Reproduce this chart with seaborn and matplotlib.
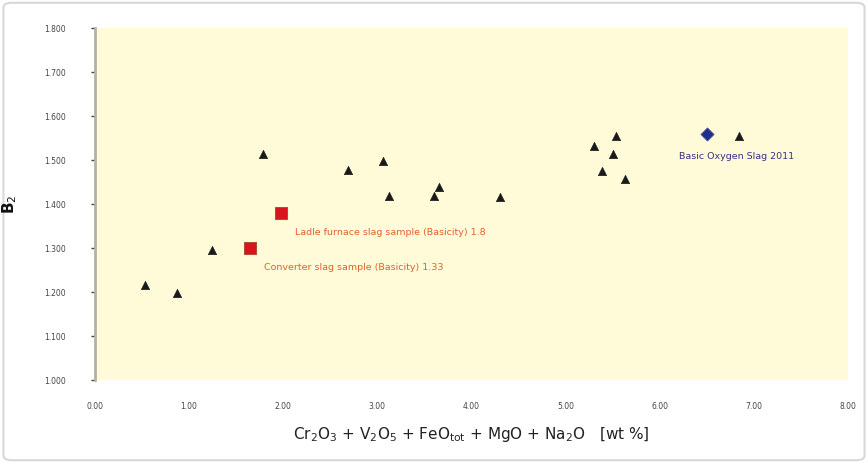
import matplotlib
matplotlib.use("Agg")
import matplotlib.pyplot as plt
import seaborn as sns
import pandas as pd
from matplotlib.patches import FancyBboxPatch

# data
tri_x = [0.53, 0.87, 1.24, 1.79, 2.69, 3.06, 3.12, 3.60, 3.65, 4.30, 5.30, 5.54, 5.50, 5.39, 5.63, 6.84]
tri_y = [1.216, 1.198, 1.295, 1.514, 1.477, 1.498, 1.418, 1.418, 1.439, 1.416, 1.532, 1.555, 1.514, 1.475, 1.457, 1.555]
red_x = [1.98, 1.65]
red_y = [1.380, 1.300]
red_labels = ["Ladle furnace slag sample (Basicity) 1.8", "Converter slag sample (Basicity) 1.33"]
blue_x = [6.50]
blue_y = [1.559]
blue_labels = ["Basic Oxygen Slag 2011"]
x_ticks = [0, 1, 2, 3, 4, 5, 6, 7, 8]
y_ticks = [1.0, 1.1, 1.2, 1.3, 1.4, 1.5, 1.6, 1.7, 1.8]

sns.set_theme(style="white")
plt.rcParams['font.family'] = ['DejaVu Sans']

fig = plt.figure(figsize=(8.68, 4.63), dpi=100)
fig.patch.set_facecolor("white")
border = FancyBboxPatch((0.004, 0.006), 0.992, 0.988, boxstyle="round,pad=0,rounding_size=0.01",
                        transform=fig.transFigure, facecolor="none", edgecolor="#d8d8d8", lw=1.5, zorder=-10)
fig.patches.append(border)

ax = fig.add_axes([0.1094, 0.179, 0.8676, 0.7605])
ax.set_zorder(5)
ax.set_facecolor("#fffbd8")

df_t = pd.DataFrame({"x": tri_x, "y": tri_y})
df_r = pd.DataFrame({"x": red_x, "y": red_y})
df_b = pd.DataFrame({"x": blue_x, "y": blue_y})

sns.scatterplot(data=df_t, x="x", y="y", marker="^", s=36, color="#1a1a1a", edgecolor="#1a1a1a", ax=ax)
sns.scatterplot(data=df_r, x="x", y="y", marker="s", s=85, color="#d8141c", edgecolor="#b05030", ax=ax)
sns.scatterplot(data=df_b, x="x", y="y", marker="D", s=45, color="#1d2f8c", edgecolor="#5050a0", ax=ax)

for x, y, t in zip(red_x, red_y, red_labels):
    ax.annotate(t, (x, y), xytext=(10, -16), textcoords="offset points", fontsize=6.8, color="#e06030")
for x, y, t in zip(blue_x, blue_y, blue_labels):
    ax.annotate(t, (x, y), xytext=(-20, -18), textcoords="offset points", fontsize=6.8, color="#3a2f8a")

ax.set_xlim(0, 8)
ax.set_ylim(1.0, 1.8)
ax.set_xticks(x_ticks)
ax.set_xticklabels([f"{v:.2f}" for v in x_ticks])
ax.set_yticks(y_ticks)
ax.set_yticklabels([f"{v:.3f}" for v in y_ticks])
ax.tick_params(axis="x", labelsize=5.5, colors="#444444", length=0, pad=16)
ax.tick_params(axis="y", labelsize=5.5, colors="#444444", length=3, width=1, direction="out", left=True, pad=18)

for s in ["top", "right", "bottom"]:
    ax.spines[s].set_visible(False)
ax.spines["left"].set_color("#b8b0a8")
ax.spines["left"].set_linewidth(2)

ax.set_xlabel("Cr$_2$O$_3$ + V$_2$O$_5$ + FeO$_{\\mathrm{tot}}$ + MgO + Na$_2$O   [wt %]", fontsize=11, color="#222222", labelpad=10)
ax.set_ylabel("B$_2$", fontsize=11, color="#111111", fontweight="bold", labelpad=18)

fig.savefig("out.png", dpi=100)
